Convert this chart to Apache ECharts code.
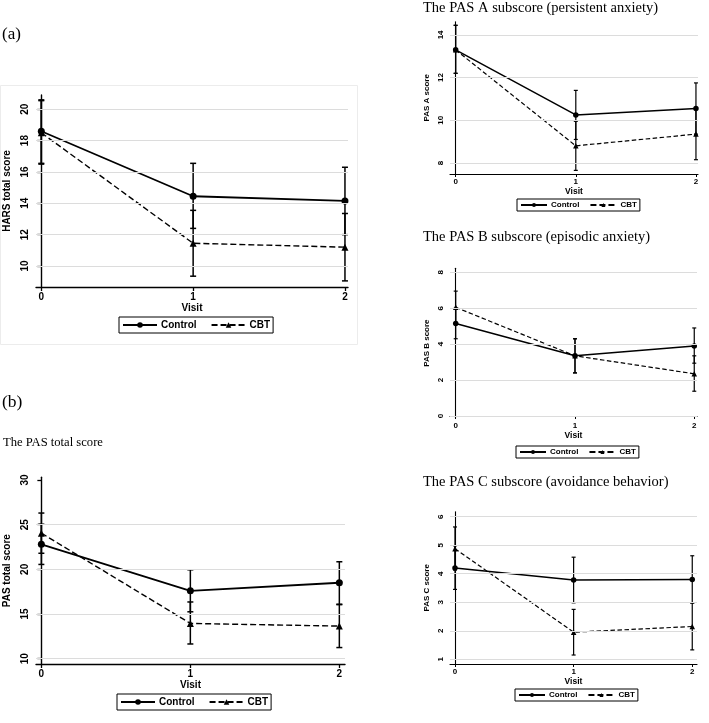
<!DOCTYPE html>
<html>
<head>
<meta charset="utf-8">
<script src="https://cdn.jsdelivr.net/npm/echarts@6/dist/echarts.min.js"></script>
<style>
html,body{margin:0;padding:0;background:#fff;}
#chart{width:709px;height:723px;}
</style>
</head>
<body>
<div id="chart"></div>
<script>
// ---------------- DATA ----------------
const visits = [0, 1, 2];
const seriesNames = ['Control', 'CBT'];

// HARS total score
const harsControl   = [18.6, 14.45, 14.15];
const harsControlLo = [16.55, 12.4, 12.0];
const harsControlHi = [20.6, 16.55, 16.3];
const harsCBT       = [18.5, 11.45, 11.2];
const harsCBTLo     = [16.5, 9.35, 9.05];
const harsCBTHi     = [20.55, 13.55, 13.35];
const harsTicks     = [10, 12, 14, 16, 18, 20];
const harsGrid      = [10, 12, 14, 16, 18, 20];

// PAS A subscore
const pasAControl   = [13.3, 10.25, 10.55];
const pasAControlLo = [12.2, 9.1, 9.35];
const pasAControlHi = [14.45, 11.4, 11.75];
const pasACBT       = [13.3, 8.8, 9.35];
const pasACBTLo     = [12.2, 7.65, 8.15];
const pasACBTHi     = [14.45, 9.95, 10.55];
const pasATicks     = [8, 10, 12, 14];
const pasAGrid      = [8, 10, 12, 14];

// PAS B subscore
const pasBControl   = [5.15, 3.35, 3.9];
const pasBControlLo = [4.3, 2.4, 2.94];
const pasBControlHi = [6.0, 4.3, 4.9];
const pasBCBT       = [6.05, 3.35, 2.35];
const pasBCBTLo     = [5.15, 2.4, 1.38];
const pasBCBTHi     = [6.95, 4.3, 3.35];
const pasBTicks     = [0, 2, 4, 6, 8];
const pasBGrid      = [0, 2, 4, 6, 8];

// PAS C subscore
const pasCControl   = [4.2, 3.78, 3.8];
const pasCControlLo = [3.45, 2.98, 2.98];
const pasCControlHi = [4.98, 4.58, 4.63];
const pasCCBT       = [4.88, 1.95, 2.15];
const pasCCBTLo     = [4.13, 1.15, 1.33];
const pasCCBTHi     = [5.64, 2.75, 2.97];
const pasCTicks     = [1, 2, 3, 4, 5, 6];
const pasCGrid      = [1, 2, 3, 4, 5, 6];

// PAS total score
const pasTControl   = [22.8, 17.6, 18.5];
const pasTControlLo = [20.55, 15.25, 16.1];
const pasTControlHi = [25.05, 19.95, 20.85];
const pasTCBT       = [24.05, 13.95, 13.65];
const pasTCBTLo     = [21.8, 11.65, 11.25];
const pasTCBTHi     = [26.3, 16.35, 16.05];
const pasTTicks     = [10, 15, 20, 25, 30];
const pasTGrid      = [10, 15, 20, 25];

// ---------------- LAYOUT ----------------
const SANS = "'Liberation Sans Narrow','Arial Narrow','Liberation Sans',Arial,sans-serif";
const SERIF = "'Liberation Serif','Times New Roman',serif";

const panels = [
  { name: 'HARS total score', ctl: [harsControl, harsControlLo, harsControlHi], cbt: [harsCBT, harsCBTLo, harsCBTHi],
    ticks: harsTicks, gridVals: harsGrid,
    grid: {left: 36, top: 95, width: 312, height: 192}, xr: [-0.035, 2.02], yr: [8.66, 20.91],
    big: true, legend: {left: 119, top: 317} },
  { name: 'PAS A score', ctl: [pasAControl, pasAControlLo, pasAControlHi], cbt: [pasACBT, pasACBTLo, pasACBTHi],
    ticks: pasATicks, gridVals: pasAGrid,
    grid: {left: 450, top: 21.7, width: 248, height: 152.3}, xr: [-0.047, 2.017], yr: [7.48, 14.62],
    big: false, legend: {left: 517, top: 199} },
  { name: 'PAS B score', ctl: [pasBControl, pasBControlLo, pasBControlHi], cbt: [pasBCBT, pasBCBTLo, pasBCBTHi],
    ticks: pasBTicks, gridVals: pasBGrid,
    grid: {left: 450, top: 268.3, width: 247, height: 149.7}, xr: [-0.048, 2.023], yr: [-0.11, 8.22],
    big: false, legend: {left: 516, top: 446} },
  { name: 'PAS C score', ctl: [pasCControl, pasCControlLo, pasCControlHi], cbt: [pasCCBT, pasCCBTLo, pasCCBTHi],
    ticks: pasCTicks, gridVals: pasCGrid,
    grid: {left: 450, top: 511.7, width: 247, height: 152.3}, xr: [-0.042, 2.04], yr: [0.835, 6.175],
    big: false, legend: {left: 515, top: 689} },
  { name: 'PAS total score', ctl: [pasTControl, pasTControlLo, pasTControlHi], cbt: [pasTCBT, pasTCBTLo, pasTCBTHi],
    ticks: pasTTicks, gridVals: pasTGrid,
    grid: {left: 36, top: 477.3, width: 309, height: 186.7}, xr: [-0.036, 2.038], yr: [9.41, 30.3],
    big: true, legend: {left: 117, top: 694} }
];

const grids = [], xAxes = [], yAxes = [], series = [], legends = [];

panels.forEach((p, i) => {
  const big = p.big;
  const fs = big ? 10 : 8;
  grids.push(Object.assign({containLabel: false}, p.grid));
  const axisLine = {show: true, lineStyle: {color: '#000', width: big ? 1.4 : 1.1}};
  const axisTick = {show: true, length: big ? 4 : 3, lineStyle: {color: '#000', width: big ? 1.3 : 1}};
  xAxes.push({
    type: 'value', gridIndex: i, min: p.xr[0], max: p.xr[1],
    axisLine, axisTick: Object.assign({customValues: visits}, axisTick),
    axisLabel: {customValues: visits, color: '#000', fontFamily: SANS, fontWeight: 'bold', fontSize: fs, margin: big ? 5 : 4},
    splitLine: {show: false},
    name: 'Visit', nameLocation: 'middle', nameGap: big ? 15 : 12,
    nameTextStyle: {color: '#000', fontFamily: SANS, fontWeight: 'bold', fontSize: big ? 10 : 8.5}
  });
  yAxes.push({
    type: 'value', gridIndex: i, min: p.yr[0], max: p.yr[1],
    axisLine, axisTick: Object.assign({customValues: p.ticks}, axisTick),
    axisLabel: {customValues: p.ticks, rotate: 90, color: '#000', fontFamily: SANS, fontWeight: 'bold', fontSize: fs, margin: big ? 6 : 5},
    splitLine: {show: false},
    name: p.name, nameLocation: 'middle', nameGap: big ? 24 : 19, nameRotate: 90,
    nameTextStyle: {color: '#000', fontFamily: SANS, fontWeight: 'bold', fontSize: big ? 10 : 8}
  });
  // gridlines
  series.push({
    type: 'line', name: '_grid' + i, xAxisIndex: i, yAxisIndex: i, data: [], z: 1, silent: true,
    markLine: {silent: true, symbol: 'none', animation: false, label: {show: false},
      lineStyle: {color: '#dcdcdc', type: 'solid', width: 1},
      data: p.gridVals.map(v => ({yAxis: v}))}
  });
  // error bars
  const capHalf = big ? 3 : 2;
  const errRender = function (params, api) {
    const x = api.value(0);
    const a = api.coord([x, api.value(1)]);
    const b = api.coord([x, api.value(2)]);
    const st = {stroke: '#000', lineWidth: big ? 1.5 : 1.2};
    return {type: 'group', children: [
      {type: 'line', shape: {x1: a[0], y1: a[1], x2: b[0], y2: b[1]}, style: st},
      {type: 'line', shape: {x1: a[0] - capHalf, y1: a[1], x2: a[0] + capHalf, y2: a[1]}, style: st},
      {type: 'line', shape: {x1: b[0] - capHalf, y1: b[1], x2: b[0] + capHalf, y2: b[1]}, style: st}
    ]};
  };
  [p.ctl, p.cbt].forEach((d, k) => {
    series.push({
      type: 'custom', name: '_err' + i + '_' + k, xAxisIndex: i, yAxisIndex: i, z: 2, silent: true,
      renderItem: errRender,
      data: visits.map((v, j) => [v, d[1][j], d[2][j]])
    });
  });
  // lines
  series.push({
    type: 'line', name: 'Control', xAxisIndex: i, yAxisIndex: i, z: 3,
    data: visits.map((v, j) => [v, p.ctl[0][j]]),
    symbol: 'circle', symbolSize: big ? 7 : 5.5,
    lineStyle: {color: '#000', width: big ? 1.8 : 1.5, type: 'solid'},
    itemStyle: {color: '#000'}
  });
  series.push({
    type: 'line', name: 'CBT', xAxisIndex: i, yAxisIndex: i, z: 3,
    data: visits.map((v, j) => [v, p.cbt[0][j]]),
    symbol: 'triangle', symbolSize: big ? 7 : 5.5,
    lineStyle: {color: '#000', width: big ? 1.4 : 1.2, type: big ? [6, 3] : [4.5, 2.5]},
    itemStyle: {color: '#000'}
  });
  legends.push({
    data: seriesNames, left: p.legend.left, top: p.legend.top, orient: 'horizontal',
    itemWidth: big ? 34 : 26, itemHeight: big ? 7 : 5, itemGap: big ? 14 : 10,
    padding: big ? [3, 3, 3, 3] : [2, 3, 2, 3],
    borderColor: '#000', borderWidth: 1, borderRadius: 0,
    selectedMode: false,
    textStyle: {color: '#000', fontFamily: SANS, fontWeight: 'bold', fontSize: big ? 10 : 8, padding: [0, 0, 0, -1]}
  });
});

const texts = [
  {t: '(a)', x: 2, y: 35, fs: 17},
  {t: '(b)', x: 2, y: 402, fs: 17.5},
  {t: 'The PAS total score', x: 3, y: 443, fs: 12.6},
  {t: 'The PAS A subscore (persistent anxiety)', x: 423, y: 8, fs: 14.5},
  {t: 'The PAS B subscore (episodic anxiety)', x: 423, y: 237, fs: 14.5},
  {t: 'The PAS C subscore (avoidance behavior)', x: 423, y: 482, fs: 14.5}
];

const graphics = texts.map(o => ({
  type: 'text', x: o.x, y: o.y, silent: true,
  style: {text: o.t, fill: '#000', fontFamily: SERIF, fontSize: o.fs, verticalAlign: 'middle', align: 'left'}
}));
graphics.push({type: 'rect', silent: true, z: -1, shape: {x: 0.5, y: 85.5, width: 357, height: 259},
  style: {fill: 'none', stroke: '#ececec', lineWidth: 1}});

const chart = echarts.init(document.getElementById('chart'), null, {renderer: 'canvas'});
chart.setOption({
  animation: false,
  backgroundColor: '#fff',
  grid: grids, xAxis: xAxes, yAxis: yAxes, series: series, legend: legends,
  graphic: graphics
});
</script>
</body>
</html>
